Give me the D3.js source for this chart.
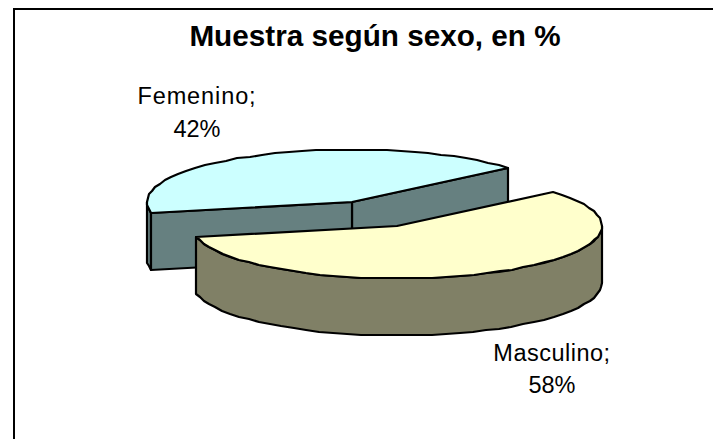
<!DOCTYPE html>
<html><head><meta charset="utf-8">
<script src="https://cdn.jsdelivr.net/npm/d3@7/dist/d3.min.js"></script>
<style>html,body{margin:0;padding:0;background:#fff;overflow:hidden}svg{display:block}</style>
</head><body><svg id="c" width="713" height="439"></svg>
<script>
const categories = ["Femenino", "Masculino"];
const percentValues = [42, 58];
const titleText = "Muestra según sexo, en %";
const topColors = ["#CCFFFF", "#FFFFCC"];
const sideColors = ["#668080", "#808066"];

const svg = d3.select("#c");
svg.append("rect").attr("x",14).attr("y",9).attr("width",720).attr("height",460)
  .attr("fill","#fff").attr("stroke","#000").attr("stroke-width",2);
svg.append("text").attr("x",375).attr("y",46).attr("text-anchor","middle")
  .attr("font-family","Liberation Sans").attr("font-weight","bold").attr("font-size",29.7).text(titleText);

const rx = 205, ry = 52.5, depth = 57;
const firstAngle = 40.4 * Math.PI / 180;   // Femenino begins here, counter-clockwise from +x
const xs = d3.scaleLinear().domain([-1,1]).range([-rx,rx]);
const ys = d3.scaleLinear().domain([-1,1]).range([ry,-ry]);
const arcs = d3.pie().sort(null).startAngle(firstAngle).endAngle(firstAngle + 2*Math.PI)(percentValues);
const cF = {x:352,y:202}, cM = {x:397,y:226};

const P = (t,c,dz=0)=>[Math.round(c.x+xs(Math.cos(t))), Math.round(c.y+ys(Math.sin(t))+dz)];
function samples(t0,t1,c,dz=0){
  const n=Math.max(2,Math.round(Math.abs(t1-t0)/0.07));
  return d3.range(n+1).map(i=>P(t0+(t1-t0)*i/n,c,dz));
}
const line = d3.line();
function face(points,fill){
  svg.append("path").attr("d",line(points)+"Z").attr("fill",fill)
    .attr("stroke","#000").attr("stroke-width",2.2).attr("stroke-linejoin","round");
}
const start = arcs[0].startAngle, split = arcs[0].endAngle, end = arcs[1].endAngle;

// Femenino: rim sliver, cut walls, top
const hub=[cF.x,cF.y], hubLow=[cF.x,cF.y+depth];
face(samples(Math.PI,split,cF).concat(samples(split,Math.PI,cF,depth)), sideColors[0]);
face([P(start,cF),hub,hubLow,P(start,cF,depth)], sideColors[0]);
face([P(split,cF),hub,hubLow,P(split,cF,depth)], sideColors[0]);
face(samples(start,split,cF).concat([hub]), topColors[0]);
// Masculino: outer side, top
face(samples(split,2*Math.PI,cM).concat(samples(2*Math.PI,split,cM,depth)), sideColors[1]);
face(samples(split,end,cM).concat([[cM.x,cM.y]]), topColors[1]);

const labelPos = [{x:197,y:[104,137],ls:0.9},{x:552,y:[361,393],ls:0.5}];
categories.forEach((c,i)=>{
  const t = svg.append("text").attr("text-anchor","middle").attr("font-family","Liberation Sans").attr("font-size",23.5);
  t.append("tspan").attr("x",labelPos[i].x).attr("y",labelPos[i].y[0]).attr("letter-spacing",labelPos[i].ls).text(c+";");
  t.append("tspan").attr("x",labelPos[i].x).attr("y",labelPos[i].y[1]).text(percentValues[i]+"%");
});
</script></body></html>
